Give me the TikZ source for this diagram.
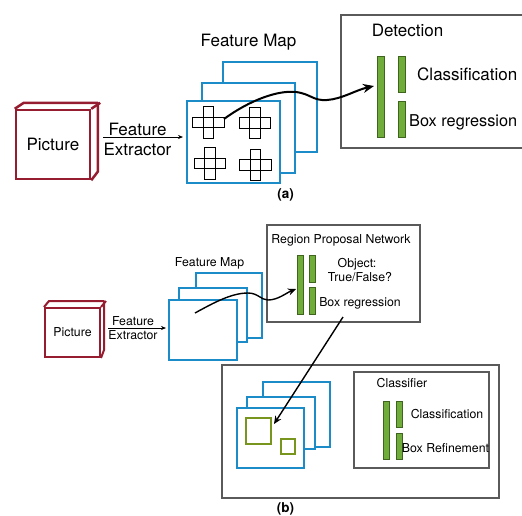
\documentclass[tikz,border=0pt]{standalone}
\usepackage{fontspec}
\setmainfont{TeX Gyre Heros}
\usetikzlibrary{arrows.meta}
\definecolor{picred}{RGB}{150,28,48}
\definecolor{mapblue}{RGB}{28,140,200}
\definecolor{bargreen}{RGB}{112,172,58}
\definecolor{bardark}{RGB}{62,100,30}
\definecolor{boxgreen}{RGB}{120,150,30}
\definecolor{framegray}{RGB}{90,90,90}

\tikzset{
  big/.style={font=\fontsize{17}{20}\selectfont, inner sep=0pt},
  small/.style={font=\fontsize{12.3}{14}\selectfont, inner sep=0pt},
  tag/.style={font=\fontsize{13.5}{15}\selectfont\bfseries, inner sep=0pt},
  picbox/.style={draw=picred, line width=2.5pt, fill=white, inner sep=0pt},
  picline/.style={draw=picred, line width=2.5pt, line join=round},
  mapbox/.style={draw=mapblue, line width=2.5pt, fill=white},
  mapthin/.style={draw=mapblue, line width=1.8pt, fill=white},
  bar/.style={draw=bardark, fill=bargreen, line width=0.8pt},
  frame/.style={draw=framegray, line width=1.4pt},
  cell/.style={draw=black, line width=1.4pt},
  feed/.style={black, line width=0.7pt, -{Stealth[length=5pt,width=4pt]}},
  flow/.style={black, line width=2pt, -{Stealth[length=11pt,width=9pt]}},
  flowthin/.style={black, line width=1.4pt, -{Stealth[length=8pt,width=7pt]}},
}

\begin{document}
\begin{tikzpicture}[x=1pt,y=-1pt]
\useasboundingbox (0,0) rectangle (522,515);
\clip (0,0) rectangle (522,515);

% ---------- (a) ----------
\node [picbox, big, minimum width=74pt, minimum height=69pt] (picA) at (53,144.5) {Picture};
\draw [picline] (picA.north west) -- ++(9,-6) -- ++(74,0) -- ++(0,69) -- (picA.south east);
\draw [picline] (picA.north east) -- ++(9,-6);

\coordinate (exA1) at (103,137);
\coordinate (exA2) at (183,137);
\draw [feed] (exA1) -- (exA2);
\node [big, anchor=base] (featA) at (137.5,135) {Feature};
\node [big, anchor=base] (extrA) at (137.5,155) {Extractor};

\node [big, anchor=base] (mapA) at (248.5,46.5) {Feature Map};
\draw [mapbox] (223,62) rectangle (317,152);
\draw [mapbox] (202,83) rectangle (295,173);
\draw [mapbox] (187,101) rectangle (280,183);
\foreach \cx/\cy in {208.5/122.5, 255/123, 210/163.5, 255.5/165}
  \foreach \dx/\dy in {0/0, -1/0, 1/0, 0/-1, 0/1}
    \draw [cell] (\cx+\dx*10.5-5.25, \cy+\dy*10.5-5.25) rectangle ++(10.5,10.5);

\draw [frame] (341,15) rectangle (560,148);
\node [big, anchor=base] (detA) at (407.5,36) {Detection};
\draw [bar] (377,56) rectangle (384,137);
\draw [bar] (398,56) rectangle (405.5,92);
\draw [bar] (398,101) rectangle (405.5,137);
\node [big, anchor=base west] (clsA) at (417,80) {Classification};
\node [big, font=\fontsize{16.3}{19}\selectfont, anchor=base west] (regA) at (409,126) {Box regression};

\coordinate (curA1) at (224,119);
\coordinate (curA2) at (374,86);
\draw [flow] (curA1) .. controls (250,100) and (278,90) .. (296,92)
  .. controls (311,94) and (313,101) .. (327,100)
  .. controls (342,99) and (356,90) .. (curA2);

\node [tag, anchor=base] (labA) at (285.5,198) {(a)};

% ---------- (b) ----------
\node [picbox, small, line width=2pt, minimum width=55pt, minimum height=49pt] (picB) at (72.5,332.5) {Picture};
\draw [picline, line width=2pt] (picB.north west) -- ++(5,-6) -- ++(55,0) -- ++(0,49) -- (picB.south east);
\draw [picline, line width=2pt] (picB.north east) -- ++(5,-6);

\coordinate (exB1) at (108,328);
\coordinate (exB2) at (166,328);
\draw [feed] (exB1) -- (exB2);
\node [small, anchor=base] (featB) at (133,325) {Feature};
\node [small, anchor=base] (extrB) at (133,339.5) {Extractor};

\node [small, anchor=base] (mapB) at (209.5,266) {Feature Map};
\draw [mapthin] (196,273) rectangle (262,338);
\draw [mapthin] (179,288) rectangle (247,342);
\draw [mapthin] (169,300) rectangle (237,360);

\draw [frame] (267,225) rectangle (420,322);
\node [small, anchor=base] (rpn) at (341,243.5) {Region Proposal Network};
\draw [bar] (297,255) rectangle (303,314);
\draw [bar] (309,255) rectangle (315,282);
\draw [bar] (309,287) rectangle (315,314);
\node [small, anchor=base] (objB) at (357,267) {Object:};
\node [small, anchor=base] (tfB) at (360,281) {True/False?};
\node [small, anchor=base] (regB) at (360,306) {Box regression};

\coordinate (curB1) at (195,313);
\coordinate (curB2) at (296,289);
\draw [flowthin] (curB1) .. controls (215,302) and (232,293) .. (248,293)
  .. controls (258,293) and (261,300) .. (268,300)
  .. controls (278,300) and (286,293) .. (curB2);

\draw [frame] (222,365) rectangle (499,498);
\draw [mapthin] (263,382) rectangle (330,447);
\draw [mapthin] (247,397) rectangle (315,449);
\draw [mapthin] (237,408) rectangle (304,468);
\draw [boxgreen, line width=1.3pt] (246,418) rectangle (271,444);
\draw [boxgreen, line width=1.3pt] (281,439) rectangle (295,454);

\coordinate (rpnOut) at (343,317);
\coordinate (roiIn) at (274,424);
\draw [flowthin] (rpnOut) -- (roiIn);

\draw [frame] (354,372) rectangle (489,468);
\node [small, anchor=base] (clfB) at (402,387) {Classifier};
\draw [bar] (383,401) rectangle (389,459);
\draw [bar] (396,401) rectangle (402,427);
\draw [bar] (396,433) rectangle (402,459);
\node [small, anchor=base] (clsB) at (447,418) {Classification};
\node [small, anchor=base] (refB) at (445.5,452) {Box Refinement};

\node [tag, anchor=base] (labB) at (285.5,512) {(b)};
\end{tikzpicture}
\end{document}
